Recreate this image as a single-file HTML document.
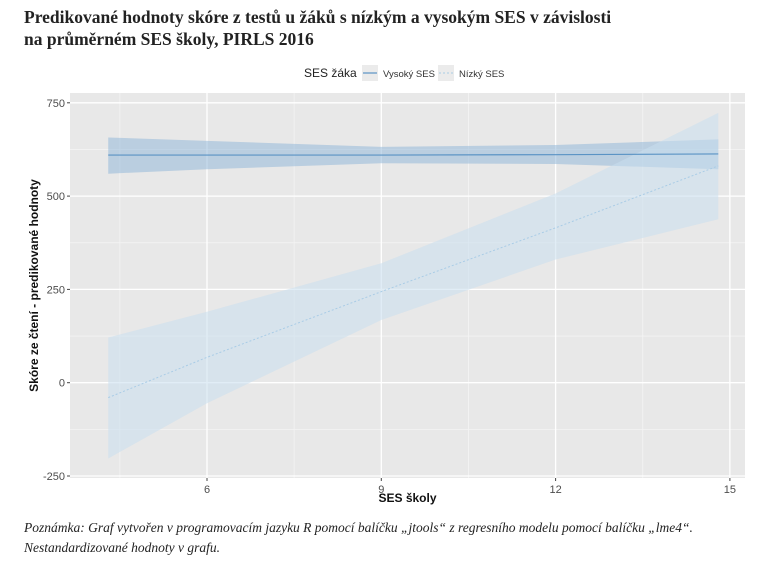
<!DOCTYPE html>
<html><head><meta charset="utf-8"><style>
body{margin:0;background:#fff;width:778px;height:561px;overflow:hidden;font-family:"Liberation Sans",sans-serif}
.title{position:absolute;left:24px;top:6px;font-family:"Liberation Serif",serif;font-weight:bold;font-size:17.5px;line-height:22px;color:#222}
.note{position:absolute;left:24px;top:518px;font-family:"Liberation Serif",serif;font-style:italic;font-size:13.5px;line-height:20px;color:#222}
svg{position:absolute;left:0;top:0}
</style></head><body>
<div class="title">Predikované hodnoty skóre z testů u žáků s nízkým a vysokým SES v závislosti<br>na průměrném SES školy, PIRLS 2016</div>
<svg id="chart" width="778" height="561"></svg>
<div class="note">Poznámka: Graf vytvořen v programovacím jazyku R pomocí balíčku „jtools“ z regresního modelu pomocí balíčku „lme4“.<br>Nestandardizované hodnoty v grafu.</div>
<script>
const xVals=[4.3,6,9,12,14.8];
const highFit=[610,610,610,611,613];
const highLower=[560,572,588,586,572];
const highUpper=[657,648,632,637,652];
const lowFit=[-40,68,244,415,581];
const lowLower=[-203,-55,168,330,438];
const lowUpper=[121,190,320,507,723];
const xTicks=[6,9,12,15];
const yTicks=[-250,0,250,500,750];
const NS="http://www.w3.org/2000/svg";
const svg=document.getElementById('chart');
const L=70,R=745,T=93,B=478;
const X=v=>207+(v-6)*58.1;
const Y=v=>382.7-v*0.3732;
function mk(tag,attrs,parent){const e=document.createElementNS(NS,tag);for(const k in attrs)e.setAttribute(k,attrs[k]);(parent||svg).appendChild(e);return e;}
const bg=mk('rect',{x:L,y:T,width:R-L,height:B-T,fill:'#e8e8e8'});


// minor grid
[4.5,7.5,10.5,13.5].forEach(v=>{const g=mk('line',{x1:X(v),x2:X(v),y1:T,y2:B,stroke:'#f4f4f4','stroke-width':0.8});});
[-125,125,375,625].forEach(v=>{const g=mk('line',{x1:L,x2:R,y1:Y(v),y2:Y(v),stroke:'#f4f4f4','stroke-width':0.8});});
xTicks.forEach(v=>{
 const g=mk('line',{x1:X(v),x2:X(v),y1:T,y2:B,stroke:'#fff','stroke-width':1.3});
 mk('line',{x1:X(v),x2:X(v),y1:B,y2:B+3,stroke:'#444'});
 const t=mk('text',{x:X(v),y:B+15,'text-anchor':'middle','font-size':11,fill:'#4d4d4d'});t.textContent=v;
 
});
yTicks.forEach(v=>{
 const g=mk('line',{x1:L,x2:R,y1:Y(v),y2:Y(v),stroke:'#fff','stroke-width':1.3});
 mk('line',{x1:L-3,x2:L,y1:Y(v),y2:Y(v),stroke:'#444'});
 const t=mk('text',{x:L-5,y:Y(v)+4,'text-anchor':'end','font-size':11,fill:'#4d4d4d'});t.textContent=v;
 
});
function band(lo,hi,fill,name){
 let d='M'+xVals.map((x,i)=>X(x)+','+Y(hi[i])).join('L');
 d+='L'+xVals.map((x,i)=>[X(x),Y(lo[i])]).reverse().map(p=>p.join(',')).join('L')+'Z';
 const p=mk('path',{d:d,fill:fill});
}
function line(v,attrs,name){
 const p=mk('polyline',Object.assign({points:xVals.map((x,i)=>X(x)+','+Y(v[i])).join(' '),fill:'none'},attrs));
 
}
band(highLower,highUpper,'rgba(140,180,215,0.5)','high-ses-ci-band');
band(lowLower,lowUpper,'rgba(200,222,238,0.55)','low-ses-ci-band');
line(highFit,{stroke:'#5a93c4','stroke-width':1.2},'high-ses-line');
line(lowFit,{stroke:'#a9cce6','stroke-width':1,'stroke-dasharray':'2,2'},'low-ses-line');
// axis titles
const xt=mk('text',{x:(L+R)/2,y:502,'text-anchor':'middle','font-size':12,'font-weight':'bold',fill:'#111'});xt.textContent='SES školy';

const yt=mk('text',{x:0,y:0,'text-anchor':'middle','font-size':12,'font-weight':'bold',fill:'#111',transform:'translate(38,'+((T+B)/2)+') rotate(-90)'});yt.textContent='Skóre ze čtení - predikované hodnoty';

// legend
const lg=mk('g',{});
const lt=mk('text',{x:304,y:77,'font-size':12,fill:'#222'},lg);lt.textContent='SES žáka';
mk('rect',{x:362,y:65,width:16,height:16,fill:'#ebebeb'},lg);
mk('line',{x1:363,x2:377,y1:73,y2:73,stroke:'#5a93c4','stroke-width':1.2},lg);
const l1=mk('text',{x:383,y:77,'font-size':9.5,fill:'#333'},lg);l1.textContent='Vysoký SES';

mk('rect',{x:438,y:65,width:16,height:16,fill:'#ebebeb'},lg);
mk('line',{x1:439,x2:453,y1:73,y2:73,stroke:'#a9cce6','stroke-width':1,'stroke-dasharray':'2,2'},lg);
const l2=mk('text',{x:459,y:77,'font-size':9.5,fill:'#333'},lg);l2.textContent='Nízký SES';

</script>
</body></html>
